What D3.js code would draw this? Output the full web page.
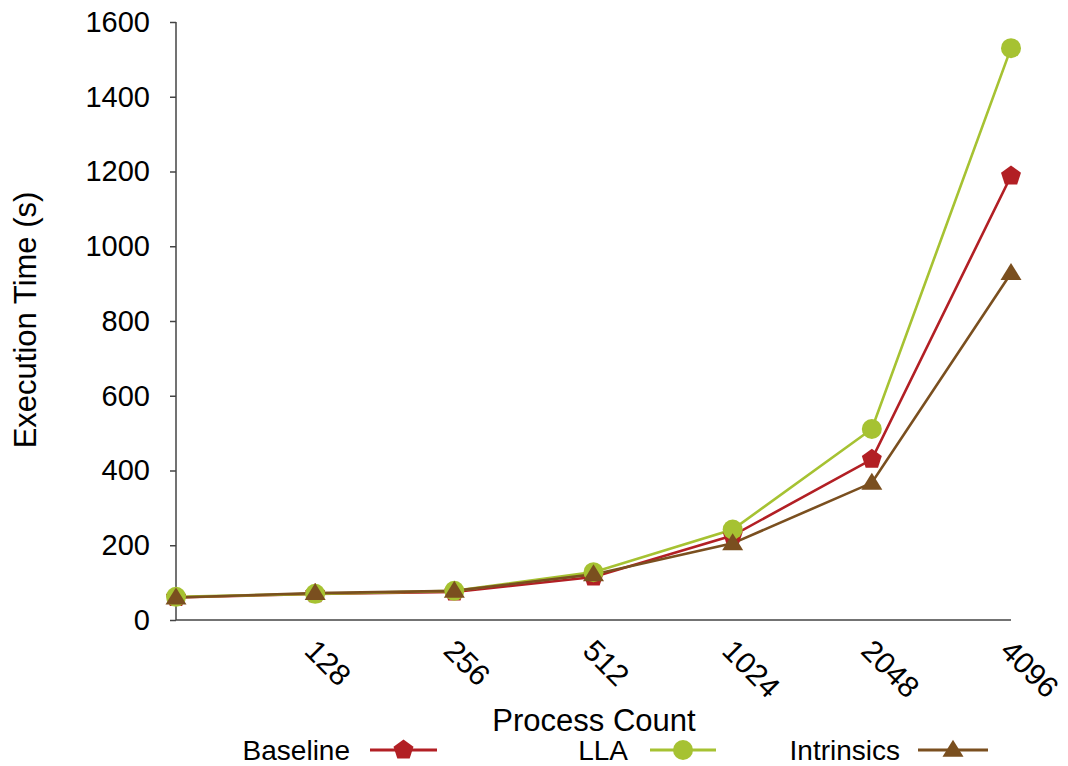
<!DOCTYPE html>
<html><head><meta charset="utf-8">
<script src="https://cdn.jsdelivr.net/npm/d3@7/dist/d3.min.js"></script>
<style>body{margin:0;background:#fff}svg{display:block}text{font-family:"Liberation Sans",Arial,sans-serif;fill:#000}</style>
</head><body><svg id="c" width="1068" height="766"></svg>
<script>
const categories = ["64","128","256","512","1024","2048","4096"];
const tickLabels = ["","128","256","512","1024","2048","4096"];
const baseline = [60,70,75,115,226,430,1188];
const lla = [62,70,78,128,242,511,1530];
const intrinsics = [60,72,78,122,205,367,928];
const yTicks = [0,200,400,600,800,1000,1200,1400,1600];
const seriesNames = ["Baseline","LLA","Intrinsics"];

const colors = {Baseline:"#b21f24", LLA:"#a6c232", Intrinsics:"#7a4f1f"};
const series = [
  {name:"Baseline", values:baseline},
  {name:"LLA", values:lla},
  {name:"Intrinsics", values:intrinsics}
];

const svg = d3.select("#c");
const x = d3.scalePoint().domain(categories).range([176,1011]).padding(0);
const y = d3.scaleLinear().domain([0,1600]).range([620,22]);

function pentagon(r){
  const pts=[];
  for(let i=0;i<5;i++){const a=-Math.PI/2+i*2*Math.PI/5;pts.push([r*Math.cos(a),r*Math.sin(a)]);}
  return "M"+pts.map(p=>p.join(",")).join("L")+"Z";
}
function triangle(w,h){return `M0,${-h*0.6}L${w/2},${h*0.4}L${-w/2},${h*0.4}Z`;}
function marker(sel,name){
  if(name==="Baseline") sel.append("path").attr("d",pentagon(10.5)).attr("fill",colors[name]);
  else if(name==="LLA") sel.append("circle").attr("r",10).attr("fill",colors[name]);
  else sel.append("path").attr("d",triangle(21,17)).attr("fill",colors[name]);
}

// axes
const yAxis = svg.append("g").attr("transform","translate(176,0)")
  .call(d3.axisLeft(y).tickValues(yTicks).tickSize(6).tickPadding(20).tickFormat(d3.format("d")));
yAxis.select(".domain").attr("stroke","#444").attr("stroke-width",1.5).attr("d","M0,22V620");
yAxis.selectAll(".tick line").attr("stroke","#444").attr("stroke-width",1.5);
yAxis.selectAll(".tick text").attr("font-size",29).attr("font-family","Liberation Sans, Arial, sans-serif").attr("fill","#000");

const xAxis = svg.append("g").attr("transform","translate(0,620)")
  .call(d3.axisBottom(x).tickSize(0).tickFormat((d,i)=>tickLabels[i]));
xAxis.select(".domain").attr("stroke","#444").attr("stroke-width",1.5).attr("d","M176,0H1011");
xAxis.selectAll(".tick text").attr("font-size",30).attr("font-family","Liberation Sans, Arial, sans-serif")
  .attr("fill","#000").attr("text-anchor","start").attr("dy",null)
  .attr("transform","rotate(45)").attr("x",14).attr("y",32);

// lines and markers
const line = d3.line().x((d,i)=>x(categories[i])).y(d=>y(d));
series.forEach(s=>{
  svg.append("path").datum(s.values).attr("d",line).attr("fill","none")
    .attr("stroke",colors[s.name]).attr("stroke-width",2.6);
});
series.forEach(s=>{
  s.values.forEach((v,i)=>{
    const g = svg.append("g").attr("transform",`translate(${x(categories[i])},${y(v)})`);
    marker(g,s.name);
  });
});

// titles
svg.append("text").attr("x",594).attr("y",731).attr("text-anchor","middle").attr("font-size",31).text("Process Count");
svg.append("text").attr("transform","translate(36,320) rotate(-90)").attr("text-anchor","middle").attr("font-size",31).text("Execution Time (s)");

// legend
const legendItems = [
  {name:"Baseline", textEnd:350, x0:370, x1:437},
  {name:"LLA", textEnd:628, x0:650, x1:716},
  {name:"Intrinsics", textEnd:900, x0:918, x1:988}
];
legendItems.forEach(l=>{
  svg.append("text").attr("x",l.textEnd).attr("y",760).attr("text-anchor","end").attr("font-size",28).text(l.name);
  svg.append("line").attr("x1",l.x0).attr("x2",l.x1).attr("y1",750).attr("y2",750).attr("stroke",colors[l.name]).attr("stroke-width",3);
  const g = svg.append("g").attr("transform",`translate(${(l.x0+l.x1)/2},750)`);
  marker(g,l.name);
});
</script></body></html>
